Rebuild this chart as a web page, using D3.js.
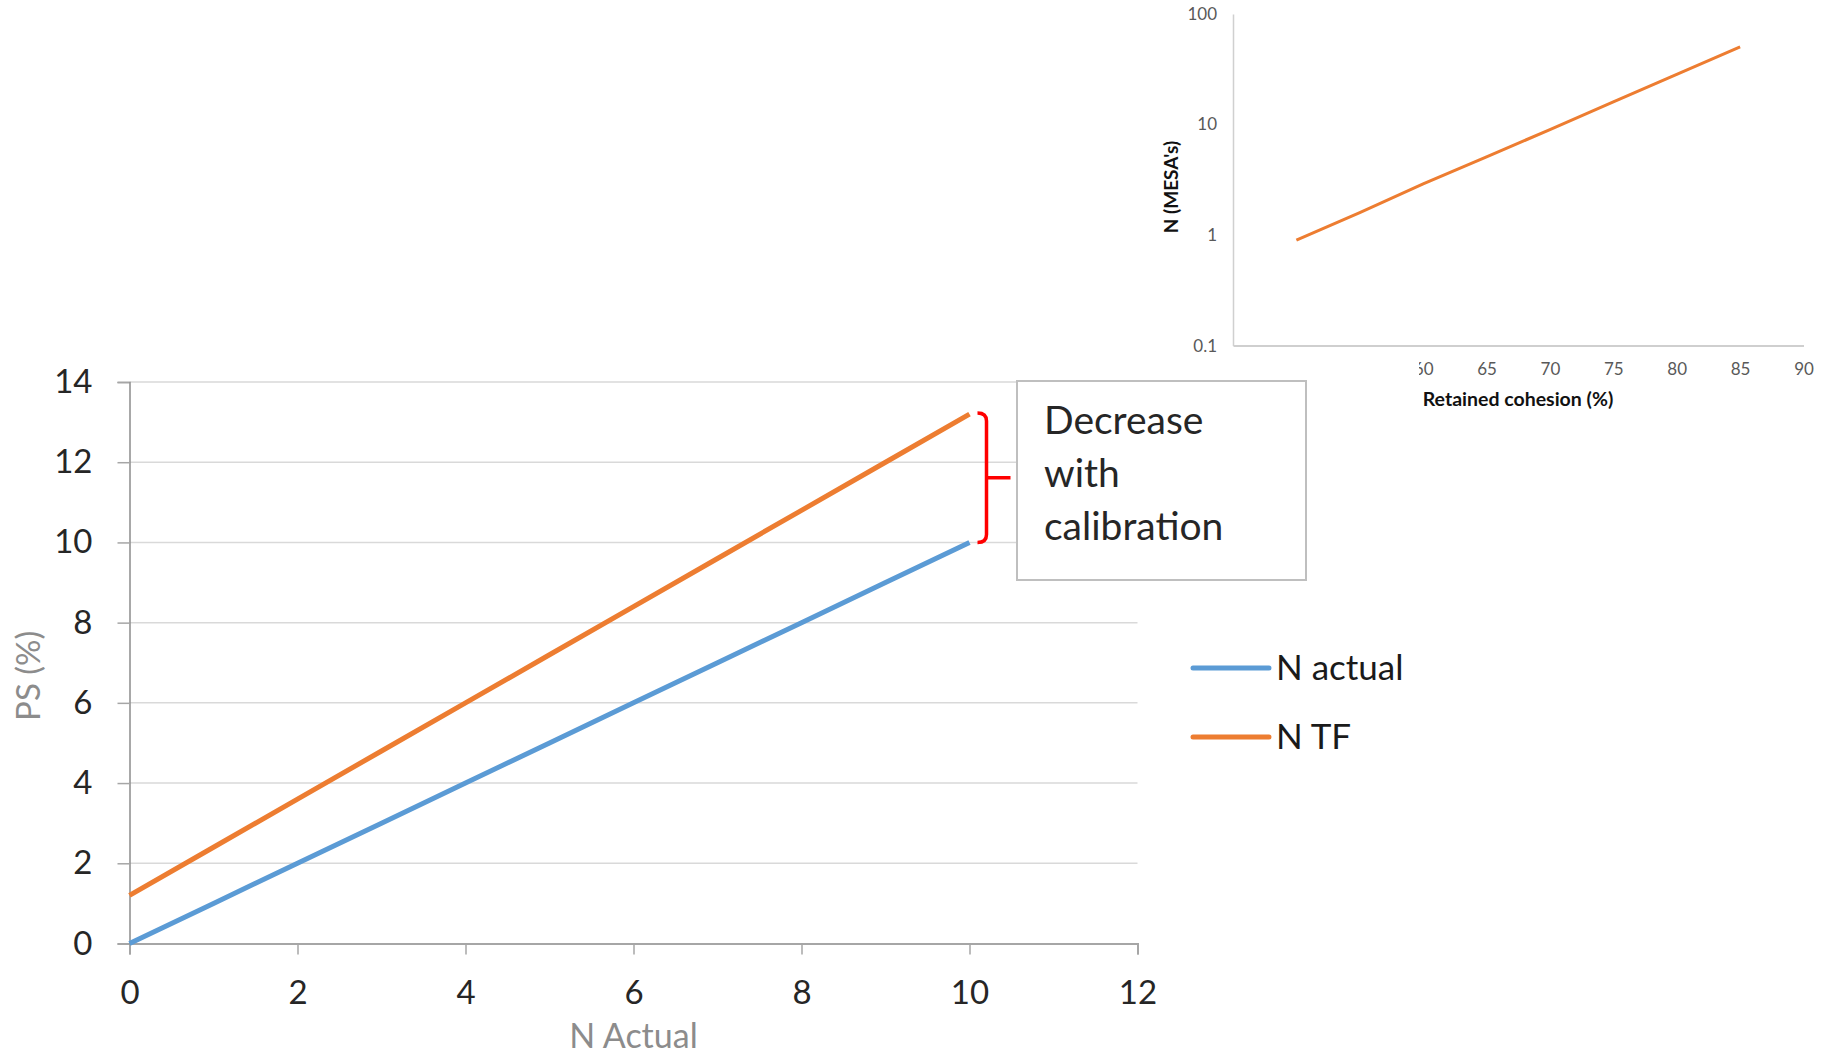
<!DOCTYPE html>
<html>
<head>
<meta charset="utf-8">
<script src="https://cdn.jsdelivr.net/npm/d3@7"></script>
<style>
  html, body { margin: 0; padding: 0; background: #fff; }
  svg { display: block; font-family: Lato, "Open Sans", sans-serif; }
</style>
</head>
<body>
<div id="chart"></div>
<script>
// main chart data
const nActualX = [0, 1, 2, 3, 4, 5, 6, 7, 8, 9, 10];
const nActualY = [0, 1, 2, 3, 4, 5, 6, 7, 8, 9, 10];
const nTfY = [1.2, 2.4, 3.6, 4.8, 6.0, 7.2, 8.4, 9.6, 10.8, 12.0, 13.2];
const mainXTicks = [0, 2, 4, 6, 8, 10, 12];
const mainYTicks = [0, 2, 4, 6, 8, 10, 12, 14];
const seriesNames = ["N actual", "N TF"];
const noteLines = ["Decrease", "with", "calibration"];

// inset chart data
const cohesion = [50, 55, 60, 65, 70, 75, 80, 85];
const mesas = [0.9, 1.6, 2.9, 5.1, 9.0, 16.0, 28.5, 50.5];
const insetXTicks = [60, 65, 70, 75, 80, 85, 90];
const insetYTicks = [0.1, 1, 10, 100];

const W = 1831, H = 1055;
const BLUE = "#5B9BD5", ORANGE = "#ED7D31";
const FONT = "Lato, 'Open Sans', sans-serif";

const svg = d3.select("#chart").append("svg")
  .attr("width", W).attr("height", H)
  .attr("viewBox", `0 0 ${W} ${H}`);

// ------- main chart -------
const x = d3.scaleLinear().domain([0, 12]).range([129.5, 1137.5]);
const y = d3.scaleLinear().domain([0, 14]).range([943.5, 382]);

// gridlines
svg.append("g")
  .selectAll("line")
  .data(mainYTicks.filter(d => d > 0))
  .join("line")
  .attr("x1", x(0)).attr("x2", x(12))
  .attr("y1", d => y(d)).attr("y2", d => y(d))
  .attr("stroke", "#d9d9d9").attr("stroke-width", 1.5);

svg.append("g")
  .attr("transform", `translate(0,${y(0)})`)
  .call(d3.axisBottom(x).tickValues(mainXTicks).tickSize(11).tickPadding(26).tickFormat(d3.format("d")))
  .call(g => g.select(".domain").attr("stroke", "#a6a6a6").attr("stroke-width", 2))
  .call(g => g.selectAll(".tick line").attr("stroke", "#a6a6a6").attr("stroke-width", 1.5))
  .call(g => g.selectAll("text").attr("fill", "#262626").style("font-size", "33px").style("font-family", FONT));

svg.append("g")
  .attr("transform", `translate(${x(0)},0)`)
  .call(d3.axisLeft(y).tickValues(mainYTicks).tickSize(12).tickPadding(25).tickFormat(d3.format("d")))
  .call(g => g.select(".domain").attr("stroke", "#8c8c8c").attr("stroke-width", 1.5))
  .call(g => g.selectAll(".tick line").attr("stroke", "#a6a6a6").attr("stroke-width", 1.5))
  .call(g => g.selectAll("text").attr("fill", "#262626").style("font-size", "33px").style("font-family", FONT));

svg.append("text")
  .attr("x", (x(0) + x(12)) / 2).attr("y", 1048)
  .attr("text-anchor", "middle")
  .attr("fill", "#8c8c8c")
  .style("font-size", "34px")
  .text("N Actual");

svg.append("text")
  .attr("transform", `translate(40,${(y(0) + y(14)) / 2 + 13}) rotate(-90)`)
  .attr("text-anchor", "middle")
  .attr("fill", "#8c8c8c")
  .style("font-size", "33px")
  .text("PS (%)");

const line = d3.line().x((d, i) => x(nActualX[i])).y(d => y(d));

svg.append("path").datum(nActualY)
  .attr("d", line).attr("fill", "none")
  .attr("stroke", BLUE).attr("stroke-width", 5);

svg.append("path").datum(nTfY)
  .attr("d", line).attr("fill", "none")
  .attr("stroke", ORANGE).attr("stroke-width", 5);

// annotation box
const box = svg.append("g");
box.append("rect")
  .attr("x", 1017).attr("y", 381).attr("width", 289).attr("height", 199)
  .attr("fill", "#fff").attr("stroke", "#bfbfbf").attr("stroke-width", 2);
box.selectAll("text")
  .data(noteLines)
  .join("text")
  .attr("x", 1044).attr("y", (d, i) => 434 + i * 53)
  .attr("fill", "#262626")
  .style("font-size", "39px")
  .text(d => d);

// red bracket between line ends
const bx = x(10) + 17;
const yTop = y(nTfY[nTfY.length - 1]) - 1;
const yBot = y(nActualY[nActualY.length - 1]);
const yMid = (yTop + yBot) / 2;
svg.append("path")
  .attr("d", `M${bx - 9},${yTop} Q${bx},${yTop} ${bx},${yTop + 8} V${yBot - 8} Q${bx},${yBot} ${bx - 9},${yBot} M${bx},${yMid} H${bx + 24}`)
  .attr("fill", "none").attr("stroke", "#ff0000").attr("stroke-width", 3.5);

// legend
const legend = svg.append("g");
[BLUE, ORANGE].forEach((c, i) => {
  const ly = 668 + i * 69;
  legend.append("line")
    .attr("x1", 1193).attr("x2", 1269).attr("y1", ly).attr("y2", ly)
    .attr("stroke", c).attr("stroke-width", 5).attr("stroke-linecap", "round");
  legend.append("text")
    .attr("x", 1276).attr("y", ly).attr("dy", "0.35em")
    .attr("fill", "#1a1a1a")
    .style("font-size", "35px")
    .text(seriesNames[i]);
});

// ------- inset chart -------
const ix = d3.scaleLinear().domain([45, 90]).range([1233, 1803.5]);
const iy = d3.scaleLog().domain([0.1, 100]).range([345.6, 14]);

// the left part of the x labels is hidden in the original figure
const clip = svg.append("defs").append("clipPath").attr("id", "insetClip");
clip.append("rect").attr("x", 1225).attr("y", 335).attr("width", 600).attr("height", 17);
clip.append("rect").attr("x", 1419).attr("y", 352).attr("width", 412).attr("height", 40);

svg.append("g")
  .attr("clip-path", "url(#insetClip)")
  .append("g")
  .attr("transform", `translate(0,${iy(0.1)})`)
  .call(d3.axisBottom(ix).tickValues(insetXTicks).tickSize(0).tickPadding(17).tickFormat(d3.format("d")))
  .call(g => g.select(".domain").attr("stroke", "#bfbfbf").attr("stroke-width", 1.5))
  .call(g => g.selectAll("text").attr("fill", "#595959").style("font-size", "17px").style("font-family", FONT));

svg.append("g")
  .attr("transform", `translate(${ix(45)},0)`)
  .call(d3.axisLeft(iy).tickValues(insetYTicks).tickSize(0).tickPadding(16).tickFormat(d => String(d)))
  .call(g => g.select(".domain").attr("stroke", "#d0d0d0").attr("stroke-width", 1.5))
  .call(g => g.selectAll("text").attr("fill", "#595959").style("font-size", "17px").style("font-family", FONT));

svg.append("path").datum(mesas)
  .attr("d", d3.line().x((d, i) => ix(cohesion[i])).y(d => iy(d)))
  .attr("fill", "none").attr("stroke", ORANGE).attr("stroke-width", 3);

svg.append("text")
  .attr("x", 1518).attr("y", 406)
  .attr("text-anchor", "middle")
  .attr("fill", "#111")
  .style("font-size", "19.5px").style("font-weight", "bold")
  .text("Retained cohesion (%)");

svg.append("text")
  .attr("transform", `translate(1178,187) rotate(-90)`)
  .attr("text-anchor", "middle")
  .attr("fill", "#111")
  .style("font-size", "19px").style("font-weight", "bold")
  .text("N (MESA's)");
</script>
</body>
</html>
